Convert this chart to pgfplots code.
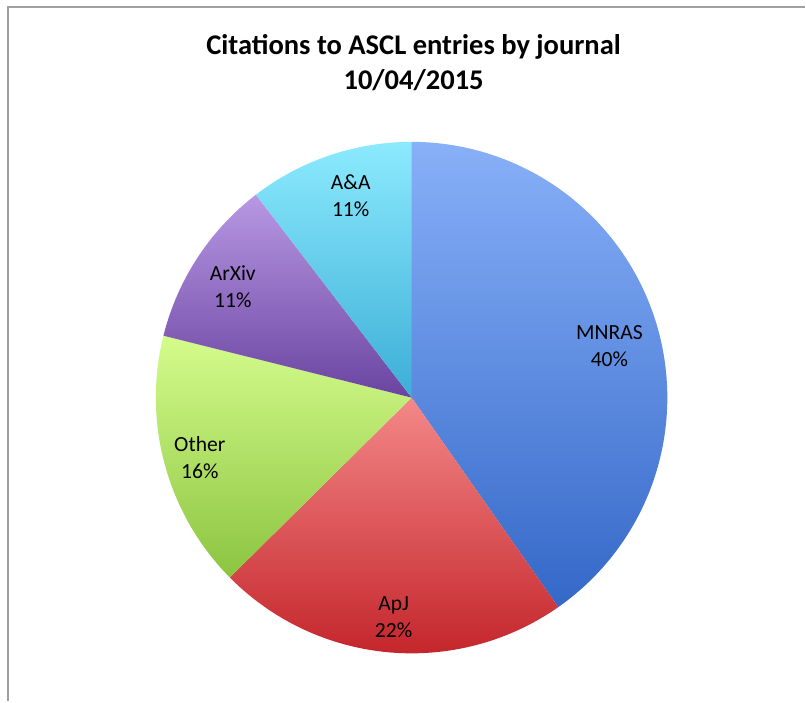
\documentclass[border=0pt]{standalone}
\usepackage{pgfplots}
\pgfplotsset{compat=1.18}
\usepackage{fontspec}
\setmainfont{Carlito}
\definecolor{mnT}{HTML}{88B0F8}
\definecolor{mnB}{HTML}{3468C8}
\definecolor{apT}{HTML}{F48888}
\definecolor{apB}{HTML}{C4262C}
\definecolor{otT}{HTML}{D4FC8C}
\definecolor{otB}{HTML}{8CC440}
\definecolor{arT}{HTML}{B898E4}
\definecolor{arB}{HTML}{6A44A0}
\definecolor{aaT}{HTML}{8CEAFE}
\definecolor{aaB}{HTML}{3CAED6}
\definecolor{frame}{HTML}{A0A0A0}
\begin{document}
\begin{tikzpicture}
\begin{axis}[
  scale only axis, width=604.5pt, height=526.5pt,
  xmin=0, xmax=806, ymin=0, ymax=702,
  hide axis, clip=false,
]
% invisible extent
\addplot[draw=none, forget plot] coordinates {(0,0) (806,702)};
% slices: start/end angles (deg) from shares 40.3, 22.6, 16.3, 10.7, 10.4 %
% MNRAS 40%
\addplot[draw=none, top color=mnT, bottom color=mnB, domain=-55:90, samples=120, variable=\t]
  ({412+256*cos(t)}, {304+256*sin(t)}) -- (axis cs:412,304) -- cycle;
% ApJ 22%
\addplot[draw=none, top color=apT, bottom color=apB, domain=-135.3:-55, samples=80, variable=\t]
  ({412+256*cos(t)}, {304+256*sin(t)}) -- (axis cs:412,304) -- cycle;
% Other 16%
\addplot[draw=none, top color=otT, bottom color=otB, domain=-194:-135.3, samples=60, variable=\t]
  ({412+256*cos(t)}, {304+256*sin(t)}) -- (axis cs:412,304) -- cycle;
% ArXiv 11%
\addplot[draw=none, top color=arT, bottom color=arB, domain=-232.5:-194, samples=40, variable=\t]
  ({412+256*cos(t)}, {304+256*sin(t)}) -- (axis cs:412,304) -- cycle;
% A&A 11%
\addplot[draw=none, top color=aaT, bottom color=aaB, domain=-270:-232.5, samples=40, variable=\t]
  ({412+256*cos(t)}, {304+256*sin(t)}) -- (axis cs:412,304) -- cycle;

% frame
\draw[frame, line width=1.2pt] (axis cs:8,0) -- (axis cs:8,695) -- (axis cs:806,695);

% title
\tikzset{ttl/.style={font=\bfseries\fontsize{21.4}{26}\selectfont, anchor=base}}
\node[ttl] at (axis cs:414,647) {Citations to ASCL entries by journal};
\node[ttl] at (axis cs:414,612) {10/04/2015};

% labels
\tikzset{lab/.style={font=\fontsize{16.2}{20.3}\selectfont, align=center}}
\node[lab] at (axis cs:610,356) {MNRAS\\40\%};
\node[lab] at (axis cs:394,84) {ApJ\\22\%};
\node[lab] at (axis cs:200,244) {Other\\16\%};
\node[lab] at (axis cs:233,415) {ArXiv\\11\%};
\node[lab] at (axis cs:351,506) {A\&A\\11\%};
\end{axis}
\end{tikzpicture}
\end{document}
